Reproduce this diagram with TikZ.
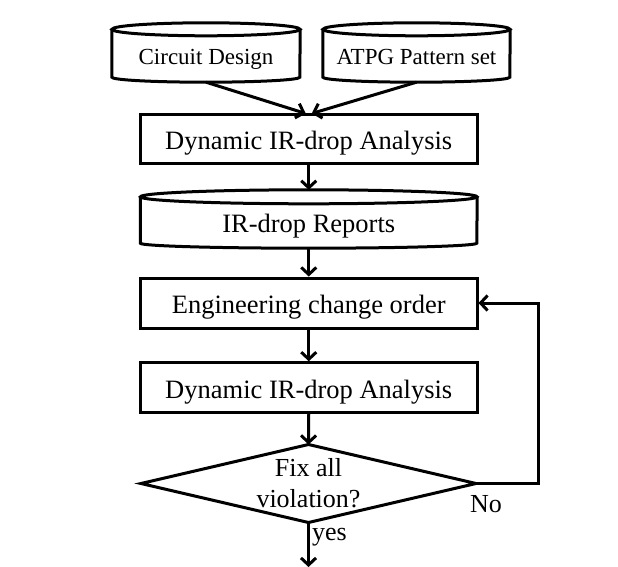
\documentclass[tikz,border=0pt]{standalone}
\usepackage{fontspec}
\setmainfont{Liberation Serif}
\usetikzlibrary{shapes.geometric,arrows.meta}
\tikzset{
  ln/.style={line width=3pt},
  arr/.style={ln,-{Straight Barb[length=7pt,width=15pt,line width=3pt]}},
  proc/.style={draw,ln,rectangle,minimum width=336.5pt,inner sep=0pt,
    text height=23pt,text depth=2pt,font=\fontsize{26.5}{31}\selectfont},
  cyltext/.style={rectangle,draw=none,inner sep=0pt,
    text height=19pt,text depth=3pt,font=\fontsize{23}{27}\selectfont},
  cylbig/.style={rectangle,draw=none,inner sep=0pt,
    text height=21pt,text depth=3pt,font=\fontsize{26.5}{31}\selectfont},
  decision/.style={draw,ln,diamond,minimum width=335pt,minimum height=78pt,inner sep=0pt,outer sep=0pt},
  lbl/.style={inner sep=0pt,font=\fontsize{26}{31}\selectfont,align=center}
}
\newcommand\drawcyl[4]{% name, x radius, top y radius, bottom y radius
  \draw[ln] ([yshift=#3]#1.north) ellipse [x radius=#2, y radius=#3];
  \draw[ln] ([yshift=#3]#1.north west) -- (#1.south west)
    arc[start angle=180,end angle=360,x radius=#2,y radius=#4]
    -- ([yshift=#3]#1.north east);
}
\begin{document}
\begin{tikzpicture}[x=1pt,y=1pt]
\useasboundingbox (0,0) rectangle (618,-567);
% top cylinders
\node[cyltext,minimum width=188pt,minimum height=41pt] (cd) at (206,-56.5) {Circuit Design};
\node[cyltext,minimum width=187pt,minimum height=41pt] (at) at (416.5,-56.5) {ATPG Pattern set};
\drawcyl{cd}{94pt}{6.5pt}{5pt}
\drawcyl{at}{93.5pt}{6.5pt}{5pt}
% process boxes
\node[proc,minimum height=48.5pt] (d1) at (308.75,-139.25) {Dynamic IR-drop Analysis};
\node[cylbig,minimum width=336.5pt,minimum height=39pt] (ir) at (308.75,-223.5) {IR-drop Reports};
\drawcyl{ir}{168.25pt}{7pt}{5pt}
\node[proc,minimum height=50pt] (eco) at (308.75,-303) {Engineering change order};
\node[proc,minimum height=49.5pt] (d2) at (308.75,-387.5) {Dynamic IR-drop Analysis};
\node[decision] (dec) at (308.5,-483.5) {};
\node[lbl] (dectxt) at (dec.center) {Fix all\\violation?};
\node[lbl,anchor=base west] (no) at (470,-512) {No};
\node[lbl,anchor=base west] (yes) at (312,-540) {yes};
\coordinate (fb) at (538,-483.5);
\coordinate (out) at (308.5,-567);
% connectors
\draw[arr] ([yshift=-5pt]cd.south) -- ([xshift=-3pt]d1.north);
\draw[arr] ([yshift=-5pt]at.south) -- ([xshift=3pt]d1.north);
\draw[arr] (d1.south) -- ([yshift=14pt]ir.north);
\draw[arr] ([yshift=-5pt]ir.south) -- (eco.north);
\draw[arr] (eco.south) -- (d2.north);
\draw[arr] (d2.south) -- (dec.north);
\draw[arr] (dec.east) -- (fb) |- (eco.east);
\draw[arr] (dec.south) -- (out);
\end{tikzpicture}
\end{document}
